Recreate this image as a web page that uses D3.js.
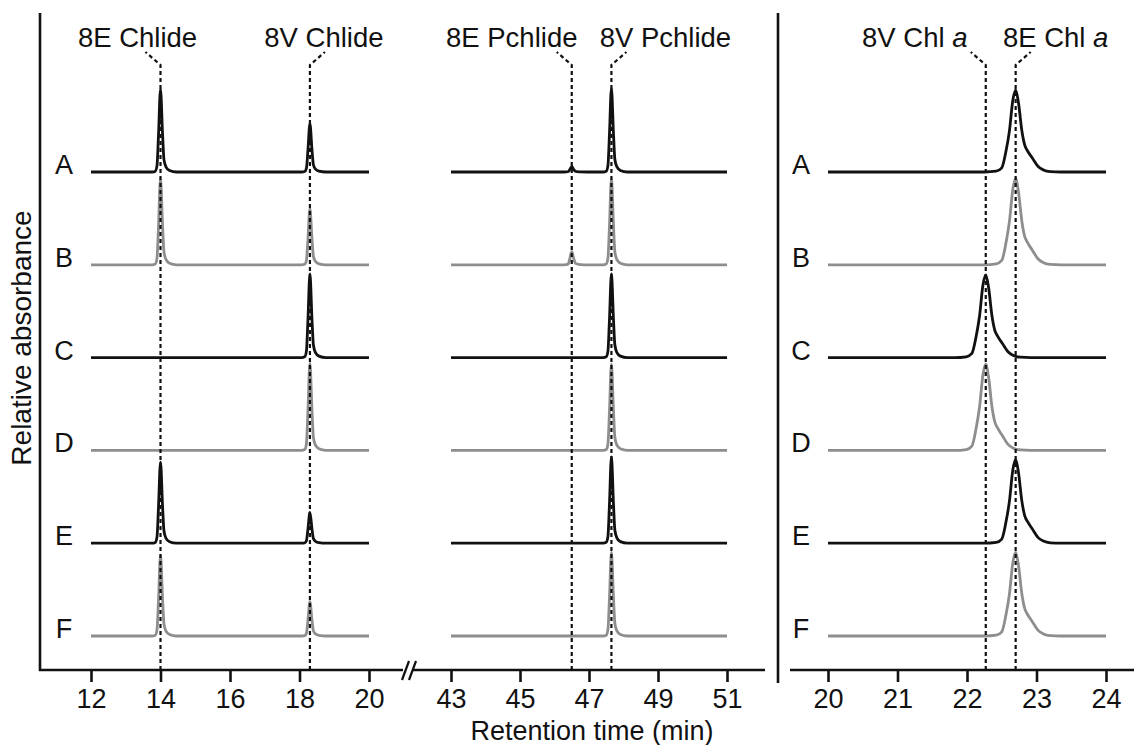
<!DOCTYPE html>
<html>
<head>
<meta charset="utf-8">
<script src="https://cdn.jsdelivr.net/npm/d3@7"></script>
<style>
  body { margin: 0; background: #fff; }
  svg { display: block; font-family: "Liberation Sans", Arial, sans-serif; }
</style>
</head>
<body>
<svg id="chart" width="1134" height="745"></svg>
<script>
'use strict';

// sample rows (A-F), relative peak heights (1 = full scale)
const rows = ['A', 'B', 'C', 'D', 'E', 'F'];
const chlide8E  = [0.94, 0.98, 0, 0, 0.92, 0.92];
const chlide8V  = [0.55, 0.64, 0.95, 0.99, 0.35, 0.39];
const pchlide8E = [0.06, 0.15, 0, 0, 0, 0];
const pchlide8V = [0.95, 0.98, 0.95, 0.98, 0.98, 0.95];
const chla8V    = [0, 0, 0.94, 0.98, 0, 0];
const chla8E    = [0.93, 0.98, 0, 0, 0.95, 0.95];

// retention times (min) of each pigment
const rtChlide8E = 14.0, rtChlide8V = 18.3;
const rtPchlide8E = 46.5, rtPchlide8V = 47.65;
const rtChla8V = 22.27, rtChla8E = 22.7;

// peak shapes: [offset (min), fraction of peak height]
const sharpPeak = [[-0.24, 0], [-0.15, 0.01], [-0.1, 0.08], [-0.06, 0.42], [0, 1],
  [0.06, 0.45], [0.1, 0.15], [0.16, 0.06], [0.26, 0.018], [0.46, 0]];
const chlaPeak = [[-0.45, 0], [-0.28, 0.01], [-0.2, 0.05], [-0.14, 0.25], [-0.09, 0.5],
  [-0.04, 0.88], [0, 1], [0.04, 0.85], [0.09, 0.5], [0.13, 0.33], [0.17, 0.26],
  [0.24, 0.17], [0.32, 0.07], [0.4, 0.025], [0.5, 0.005], [0.65, 0]];

// axis ticks
const ticksLeft = [12, 14, 16, 18, 20];
const ticksMid = [43, 45, 47, 49, 51];
const ticksRight = [20, 21, 22, 23, 24];

const svg = d3.select('#chart');
const ink = '#111';
const grey = '#8e8e8e';

let xLeft = d3.scaleLinear().domain([12, 20]).range([91, 369]);
let xMid = d3.scaleLinear().domain([43, 51]).range([451, 727]);
let xRight = d3.scaleLinear().domain([20, 24]).range([828, 1106]);
let yRow = d3.scalePoint().domain(rows).range([172, 636]);
let yAbs = d3.scaleLinear().domain([0, 1]).range([0, -88]);

const axisY = 670;

let panels = [
  { x: xLeft, ticks: ticksLeft, peaks: [
      { rt: rtChlide8E, h: chlide8E, shape: sharpPeak },
      { rt: rtChlide8V, h: chlide8V, shape: sharpPeak }] },
  { x: xMid, ticks: ticksMid, peaks: [
      { rt: rtPchlide8E, h: pchlide8E, shape: sharpPeak },
      { rt: rtPchlide8V, h: pchlide8V, shape: sharpPeak }] },
  { x: xRight, ticks: ticksRight, peaks: [
      { rt: rtChla8V, h: chla8V, shape: chlaPeak },
      { rt: rtChla8E, h: chla8E, shape: chlaPeak }] }
];

function tracePoints (panel, ri) {
  let d = panel.x.domain();
  let pts = [[d[0], 0]];
  panel.peaks.forEach((p) => {
    let h = p.h[ri];
    if (h > 0) {
      p.shape.forEach((s) => pts.push([p.rt + s[0], s[1] * h]));
    }
  });
  pts.push([d[1], 0]);
  return pts;
}

// traces
panels.forEach((panel) => {
  rows.forEach((r, ri) => {
    let line = d3.line()
      .x((d) => panel.x(d[0]))
      .y((d) => yRow(r) + yAbs(d[1]))
      .curve(d3.curveMonotoneX);
    svg.append('path')
      .attr('d', line(tracePoints(panel, ri)))
      .attr('fill', 'none')
      .attr('stroke', ri % 2 ? grey : ink)
      .attr('stroke-width', 2.8)
      .attr('stroke-linejoin', 'round');
  });
});

// row letters
[64, 801].forEach((lx) => {
  svg.selectAll(null)
    .data(rows)
    .enter().append('text')
      .attr('x', lx)
      .attr('y', (d) => yRow(d) + 2)
      .attr('text-anchor', 'middle')
      .attr('font-size', 27)
      .attr('fill', ink)
      .text((d) => d);
});

// marker lines with labels
let markers = [
  { x: xLeft(rtChlide8E), lean: -1, dx: -23, label: ['8E Chlide'] },
  { x: xLeft(rtChlide8V), lean: 1, dx: 14, label: ['8V Chlide'] },
  { x: xMid(rtPchlide8E), lean: -1, dx: -60, label: ['8E Pchlide'] },
  { x: xMid(rtPchlide8V), lean: 1, dx: 54, label: ['8V Pchlide'] },
  { x: xRight(rtChla8V), lean: -1, dx: -71, label: ['8V Chl ', 'a'] },
  { x: xRight(rtChla8E), lean: 1, dx: 40, label: ['8E Chl ', 'a'] }
];

markers.forEach((m) => {
  svg.append('path')
    .attr('d', 'M' + m.x + ',' + axisY + 'V65L' + (m.x + m.lean * 15) + ',52')
    .attr('fill', 'none')
    .attr('stroke', ink)
    .attr('stroke-width', 2.2)
    .attr('stroke-dasharray', '4,3');
  let t = svg.append('text')
    .attr('x', m.x + m.dx)
    .attr('y', 47)
    .attr('text-anchor', 'middle')
    .attr('font-size', 27.5)
    .attr('fill', ink);
  t.append('tspan').text(m.label[0]);
  if (m.label[1]) t.append('tspan').attr('font-style', 'italic').text(m.label[1]);
});

// frame: y axis, divider and x axis segments
let frame = svg.append('g')
  .attr('stroke', ink)
  .attr('stroke-width', 2.6)
  .attr('fill', 'none');
frame.append('path').attr('d', 'M40,13V' + axisY + 'H403');
frame.append('path').attr('d', 'M412,' + axisY + 'H765');
frame.append('path').attr('d', 'M778,13V683');
frame.append('path').attr('d', 'M790,' + axisY + 'H1134');
frame.append('path').attr('d', 'M402,680L409,661M409,680L416,661').attr('stroke-width', 2.2);

// tick marks and labels
panels.forEach((panel) => {
  let ax = d3.axisBottom(panel.x)
    .tickValues(panel.ticks)
    .tickSize(12)
    .tickPadding(7)
    .tickFormat(d3.format('d'));
  let g = svg.append('g')
    .attr('transform', 'translate(0,' + axisY + ')')
    .call(ax);
  g.select('.domain').remove();
  g.selectAll('.tick line').attr('stroke', ink).attr('stroke-width', 2.6);
  g.selectAll('.tick text')
    .attr('fill', ink)
    .attr('font-size', 27)
    .attr('font-family', '"Liberation Sans", Arial, sans-serif');
});

// axis titles
svg.append('text')
  .attr('x', 592)
  .attr('y', 740)
  .attr('text-anchor', 'middle')
  .attr('font-size', 27)
  .attr('fill', ink)
  .text('Retention time (min)');

svg.append('text')
  .attr('transform', 'translate(31,338) rotate(-90)')
  .attr('text-anchor', 'middle')
  .attr('font-size', 28)
  .attr('fill', ink)
  .text('Relative absorbance');
</script>
</body>
</html>
